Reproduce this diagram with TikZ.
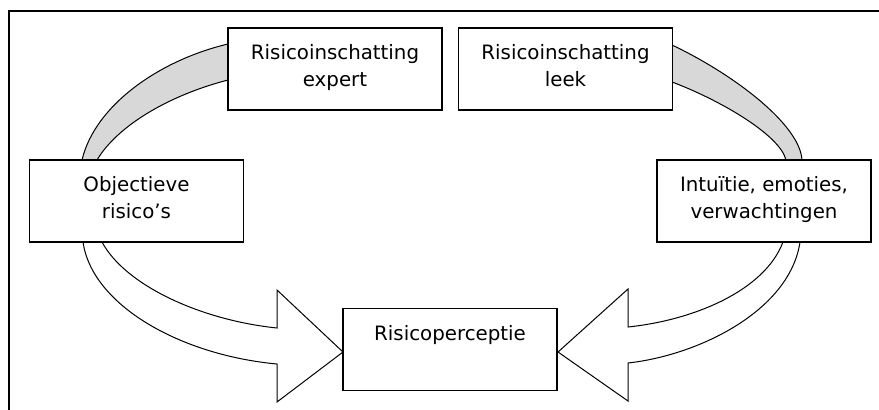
\documentclass[tikz,border=0pt]{standalone}
\usepackage{fontspec}
\setmainfont{DejaVu Sans}
\definecolor{bandgray}{RGB}{216,216,216}
\pgfdeclarelayer{background}
\pgfsetlayers{background,main}
\newcommand{\btext}[1]{\parbox[c][56pt][t]{210pt}{\centering\strut #1}}
\tikzset{
  box/.style={draw, line width=1.2pt, fill=white, rectangle, inner xsep=2pt, inner ysep=13pt,
    minimum width=214pt, minimum height=82pt, font=\fontsize{19.8}{27}\selectfont},
  band/.style={draw, line width=1pt, fill=bandgray, line join=round},
  blockarrow/.style={draw, line width=1pt, fill=white, line join=miter},
  frameline/.style={line width=1.5pt}
}
\begin{document}
\begin{tikzpicture}[x=1pt,y=-1pt]
\useasboundingbox (0,0) rectangle (879,410);
\draw[frameline] (9,410) -- (9,11) -- (879,11);

\node[box] (expert) at (335,69) {\btext{Risicoinschatting\\expert}};
\node[box] (leek) at (565.5,69) {\btext{Risicoinschatting\\leek}};
\node[box] (obj) at (136.5,201) {\btext{Objectieve\\risico’s}};
\node[box] (intu) at (764,201) {\btext{Intuïtie, emoties,\\verwachtingen}};
\node[box] (perc) at (450,349.5) {\btext{Risicoperceptie}};

\begin{pgfonlayer}{background}
% grey band: objective risks -> expert
\path[band] (82,166) -- (82,160) .. controls (95,105) and (160,60) .. (228,44)
  .. controls (270,34) and (305,29) .. (345,27.5) -- (300,55) -- (228,80)
  .. controls (170,95) and (118,125) .. (97,160) -- (97,166) -- cycle;
% grey band: leek -> intuition
\path[band] (557,27.5) .. controls (600,29) and (640,35) .. (672,45)
  .. controls (735,75) and (800,125) .. (802,160) -- (802,166) -- (786,166) -- (786,160)
  .. controls (780,135) and (720,100) .. (672,82) -- (600,55) -- cycle;
% block arrow: objective risks -> perception
\path[blockarrow] (83,236) -- (83,242) .. controls (92,305) and (180,355) .. (277,364)
  -- (277,402) -- (343,352) -- (277,290) -- (277,328)
  .. controls (200,320) and (125,285) .. (102,242) -- (102,236) -- cycle;
% block arrow: intuition -> perception
\path[blockarrow] (800,236) -- (800,242) .. controls (790,310) and (700,355) .. (628,363)
  -- (628,401) -- (558,352) -- (628,289) -- (628,327)
  .. controls (695,320) and (765,290) .. (783,242) -- (783,236) -- cycle;
\end{pgfonlayer}
\end{tikzpicture}
\end{document}
